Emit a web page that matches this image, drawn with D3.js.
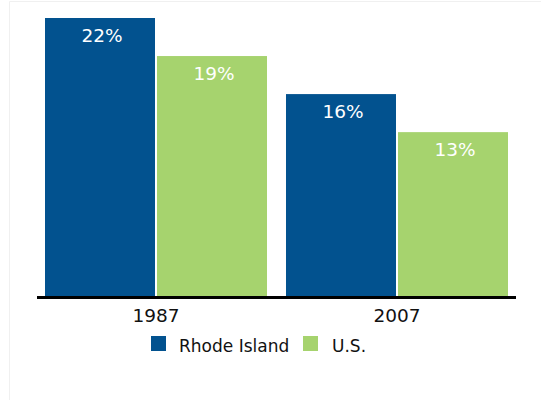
<!DOCTYPE html>
<html>
<head>
<meta charset="utf-8">
<script src="https://cdn.jsdelivr.net/npm/d3@7"></script>
<style>
  html, body { margin: 0; padding: 0; background: #fff; }
  svg { display: block; }
</style>
</head>
<body>
<svg id="chart" width="541" height="400"></svg>
<script>
const categories = ["1987", "2007"];
const seriesNames = ["Rhode Island", "U.S."];
const rhodeIsland = [22, 16];
const us = [19, 13];
const seriesColors = ["#02528f", "#a6d36e"];

const svg = d3.select("#chart");
const W = 541, H = 400;

// faint frame
svg.append("path")
  .attr("d", `M9.5,${H} L9.5,1.5 L${W},1.5`)
  .attr("fill", "none")
  .attr("stroke", "#f0f0f0")
  .attr("stroke-width", 1);

const x0 = d3.scaleBand().domain(categories)
  .range([37, 516]).paddingInner(0.0788).paddingOuter(0.0332);
const x1 = d3.scaleBand().domain(seriesNames)
  .range([0, x0.bandwidth()]).paddingInner(0.018);
const y = d3.scaleLinear().domain([0, 22]).range([297, 18]);

const data = categories.map((c, i) => ({
  cat: c,
  values: [
    { s: seriesNames[0], v: rhodeIsland[i], color: seriesColors[0] },
    { s: seriesNames[1], v: us[i], color: seriesColors[1] }
  ]
}));

const g = svg.selectAll("g.grp").data(data).enter().append("g")
  .attr("class", "grp")
  .attr("transform", d => `translate(${x0(d.cat)},0)`);

g.selectAll("rect").data(d => d.values).enter().append("rect")
  .attr("x", d => x1(d.s))
  .attr("y", d => y(d.v))
  .attr("width", x1.bandwidth())
  .attr("height", d => y(0) - y(d.v))
  .attr("fill", d => d.color);

g.selectAll("text.val").data(d => d.values).enter().append("text")
  .attr("class", "val")
  .attr("x", d => x1(d.s) + x1.bandwidth() / 2 + 2)
  .attr("y", d => y(d.v) + 24)
  .attr("text-anchor", "middle")
  .attr("fill", "#ffffff")
  .attr("font-family", "DejaVu Sans, sans-serif")
  .attr("font-size", 18.5)
  .text(d => d.v + "%");

// axis
const axis = d3.axisBottom(x0).tickSize(0).tickPadding(7);
const ax = svg.append("g").attr("transform", `translate(0,${y(0)})`).call(axis);
ax.select(".domain").attr("stroke", "#000").attr("stroke-width", 3)
  .attr("d", "M37,0.5H516");
ax.selectAll("text")
  .attr("font-family", "DejaVu Sans, sans-serif")
  .attr("font-size", 18.5)
  .attr("fill", "#111")
  .attr("dy", "0.95em");

// legend
const legendItems = [
  { name: seriesNames[0], color: seriesColors[0], x: 151, tx: 179 },
  { name: seriesNames[1], color: seriesColors[1], x: 303, tx: 332 }
];
const lg = svg.append("g");
legendItems.forEach(it => {
  lg.append("rect").attr("x", it.x).attr("y", 336).attr("width", 15).attr("height", 15)
    .attr("fill", it.color);
  lg.append("text").attr("x", it.tx).attr("y", 352)
    .attr("font-family", "DejaVu Sans, sans-serif")
    .attr("font-size", 17)
    .attr("fill", "#111")
    .text(it.name);
});
</script>
</body>
</html>
